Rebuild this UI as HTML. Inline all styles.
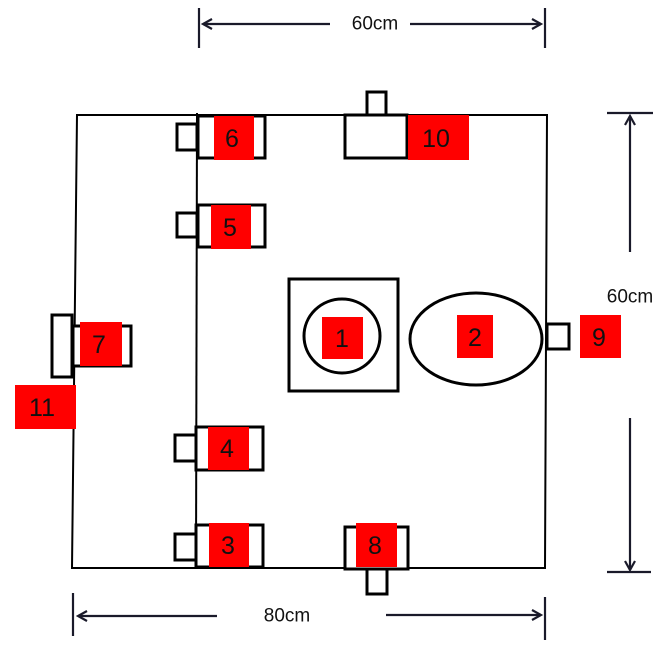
<!DOCTYPE html>
<html><head><meta charset="utf-8"><style>
html,body{margin:0;padding:0;background:#fff;}
svg{display:block;}
text{font-family:"Liberation Sans",sans-serif;}
</style></head><body>
<svg width="664" height="649" viewBox="0 0 664 649" xmlns="http://www.w3.org/2000/svg">
<defs>
<marker id="ah" markerWidth="12" markerHeight="12" refX="10" refY="6" orient="auto" markerUnits="userSpaceOnUse">
<path d="M1,1 L10,6 L1,11" fill="none" stroke="#1a1a2a" stroke-width="2.2"/>
</marker>
</defs>
<g stroke="#000" stroke-width="2" fill="none">
<path d="M77,115 L547,115 L545,568 L72,568 Z"/>
<line x1="197" y1="113" x2="196" y2="568"/>
</g>
<g stroke="#000" stroke-width="3" fill="none">
<rect x="289" y="279" width="109" height="112"/>
<ellipse cx="342" cy="336" rx="38" ry="37"/>
<ellipse cx="476" cy="339" rx="66" ry="46"/>
</g>
<g stroke="#000" stroke-width="3" fill="#fff">
<rect x="177" y="124" width="20" height="26"/><rect x="198" y="116" width="67" height="42"/>
<rect x="177" y="213" width="20" height="24"/><rect x="198" y="205" width="67" height="42"/>
<rect x="52" y="315" width="20" height="62"/><rect x="73" y="326" width="58" height="40"/>
<rect x="175" y="435" width="21" height="26"/><rect x="196" y="427" width="67" height="43"/>
<rect x="175" y="534" width="21" height="26"/><rect x="196" y="525" width="67" height="42"/>
<rect x="345" y="527" width="63" height="42"/><rect x="367" y="569" width="20" height="25"/>
<rect x="367" y="92" width="19" height="23"/><rect x="345" y="115" width="62" height="43"/>
<rect x="547" y="324" width="22" height="25"/>
</g>
<g fill="#ff0000">
<rect x="214" y="116" width="40" height="44"/>
<rect x="211" y="205" width="40" height="44"/>
<rect x="80" y="322" width="42" height="44"/>
<rect x="15" y="385" width="61" height="44"/>
<rect x="322" y="317" width="41" height="42"/>
<rect x="457" y="315" width="36" height="43"/>
<rect x="580" y="315" width="41" height="43"/>
<rect x="408" y="115" width="61" height="45"/>
<rect x="208" y="427" width="41" height="43"/>
<rect x="209" y="523" width="40" height="44"/>
<rect x="356" y="523" width="41" height="44"/>
</g>
<g font-size="25" fill="#111" text-anchor="middle" dominant-baseline="central">
<text x="232" y="139">6</text><text x="230" y="228">5</text><text x="99" y="345">7</text>
<text x="42" y="408">11</text><text x="342" y="339">1</text><text x="475" y="338">2</text>
<text x="599" y="338">9</text><text x="436" y="139">10</text><text x="227" y="449">4</text>
<text x="228" y="546">3</text><text x="375" y="546">8</text>
</g>
<g stroke="#1a1a2a" stroke-width="2.2" fill="none">
<line x1="199" y1="8" x2="199" y2="48"/><line x1="545" y1="8" x2="545" y2="48"/>
<line x1="330" y1="24" x2="203" y2="24" marker-end="url(#ah)"/>
<line x1="410" y1="24" x2="541" y2="24" marker-end="url(#ah)"/>
<line x1="73" y1="593" x2="73" y2="636"/><line x1="545" y1="597" x2="545" y2="640"/>
<line x1="217" y1="616" x2="78" y2="616" marker-end="url(#ah)"/>
<line x1="386" y1="615" x2="541" y2="615" marker-end="url(#ah)"/>
<line x1="607" y1="113" x2="653" y2="113"/><line x1="607" y1="572" x2="651" y2="572"/>
<line x1="630" y1="252" x2="630" y2="116" marker-end="url(#ah)"/>
<line x1="630" y1="418" x2="630" y2="570" marker-end="url(#ah)"/>
</g>
<g font-size="19" fill="#111" text-anchor="middle" dominant-baseline="central">
<text x="375" y="24">60cm</text>
<text x="287" y="616">80cm</text>
<text x="630" y="297">60cm</text>
</g>
</svg>
</body></html>
